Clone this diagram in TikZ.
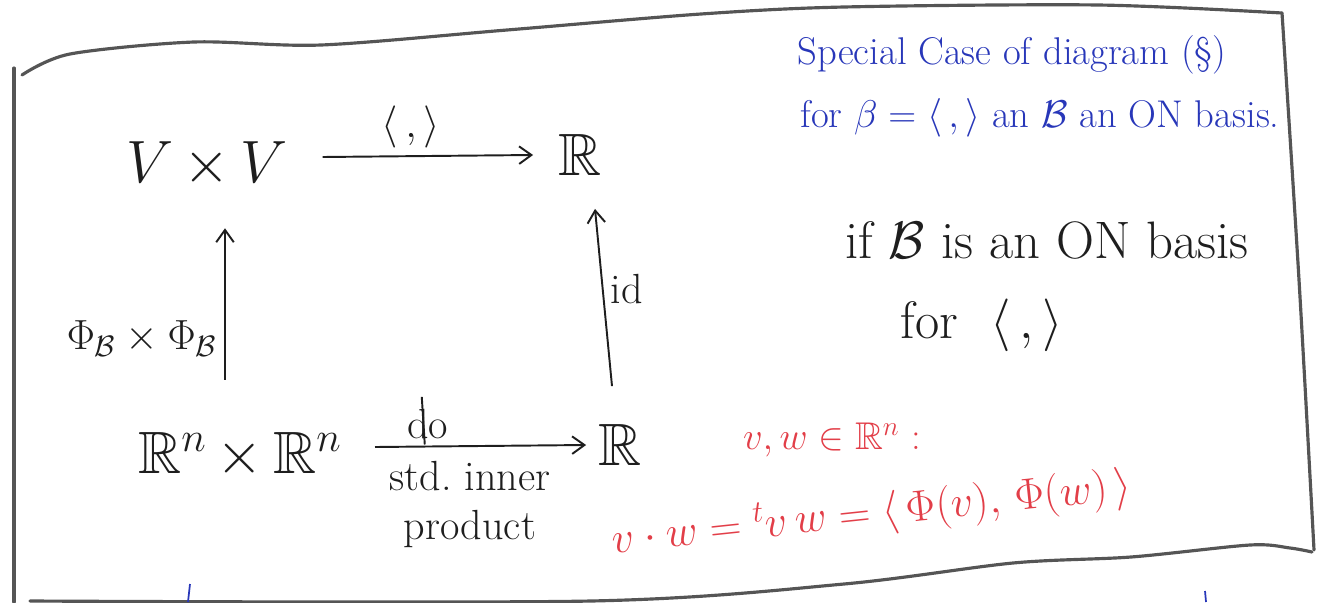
\RequirePackage{fix-cm}
\documentclass[tikz,border=0pt]{standalone}
\usepackage{amsmath,amssymb}
\usetikzlibrary{arrows.meta}
\definecolor{inkblue}{RGB}{40,55,185}
\definecolor{inkred}{RGB}{226,62,72}
\definecolor{ink}{RGB}{30,30,30}
\definecolor{rimgray}{RGB}{85,85,85}
\begin{document}
\begin{tikzpicture}[x=0.02cm, y=-0.02cm,
  obj/.style={inner sep=0pt, text=ink, font=\fontsize{34}{40}\selectfont},
  lbl/.style={inner sep=4pt, text=ink, font=\fontsize{24}{28}\selectfont},
  arr/.style={draw=ink, line width=1.1pt, -{Straight Barb[length=7pt, width=10pt]}},
  note/.style={inner sep=0pt, font=\fontsize{22}{26}\selectfont},
  rim/.style={draw=rimgray, line width=1.8pt, line cap=round, line join=round}
]
\useasboundingbox (0,0) rectangle (1324,602);
% the sheet
\draw[rim] (14,602) -- (14,68);
\draw[rim] plot[smooth] coordinates {(22,75) (70,54) (194,42) (321,45) (507,30) (701,14) (844,7) (1098,5) (1282,13)};
\draw[rim] plot[smooth] coordinates {(1282,13) (1299,280) (1314,550)};
\draw[rim] plot[smooth] coordinates {(30,601) (591,601) (844,584) (1013,563) (1131,557) (1250,545) (1290,548) (1312,552)};
% objects
\node[obj] (vv) at (207,165) {$V\,{\times}\,V$};
\node[obj] (rtop) at (580,155) {$\mathbb{R}$};
\node[obj] (rnrn) at (240,455) {$\mathbb{R}^n\,{\times}\,\mathbb{R}^n$};
\node[obj] (rbot) at (620,445) {$\mathbb{R}$};
% maps
\draw[arr] ([shift={(35,-8)}]vv.east) -- node[lbl, above, pos=0.42] (pair) {$\langle\,,\rangle$} ([shift={(-25,0)}]rtop.west);
\draw[arr] ([shift={(-15,-52)}]rnrn.north) -- node[lbl, left, pos=0.27] (phis) {$\Phi_{\mathcal{B}}\times\Phi_{\mathcal{B}}$} ([shift={(18,40)}]vv.south);
\draw[arr] ([shift={(-8,-38)}]rbot.north) -- node[lbl, right, pos=0.55] (id) {id} ([shift={(15,33)}]rtop.south);
\draw[arr] ([shift={(33,-8)}]rnrn.east) -- node[lbl, above, pos=0.25] (crossed) {do} node[lbl, below, align=center, pos=0.45, inner sep=8pt] (std) {std.\ inner\\product} ([shift={(-12,0)}]rbot.west);
\draw[ink, line width=1.1pt] ([shift={(-3,-2)}]crossed.south) -- ([shift={(-6,-4)}]crossed.north);
% notes
\node[note, text=inkblue] (title) at (1012,55) {Special Case of diagram (\S)};
\node[note, text=inkblue] (cond) at (1040,118) {for $\beta=\langle\,,\rangle$ an $\mathcal{B}$ an ON basis.};
\node[lbl, font=\fontsize{30}{34}\selectfont] (onb) at (1047,240) {if $\mathcal{B}$ is an ON basis};
\node[lbl, font=\fontsize{30}{34}\selectfont] (forpair) at (982,325) {for\ \ $\langle\,,\rangle$};
\node[note, text=inkred] (vw) at (832,440) {$v,w\in\mathbb{R}^n$ :};
\node[note, text=inkred, rotate=6, font=\fontsize{25}{28}\selectfont] (dot) at (872,514) {$v\cdot w = {}^t v\,w = \langle\,\Phi(v),\,\Phi(w)\,\rangle$};
% stray ticks from the next line
\draw[inkblue, line width=1pt] (190,584) -- (188,602);
\draw[inkblue, line width=1pt] (1205,591) -- (1206,602);
\end{tikzpicture}
\end{document}
